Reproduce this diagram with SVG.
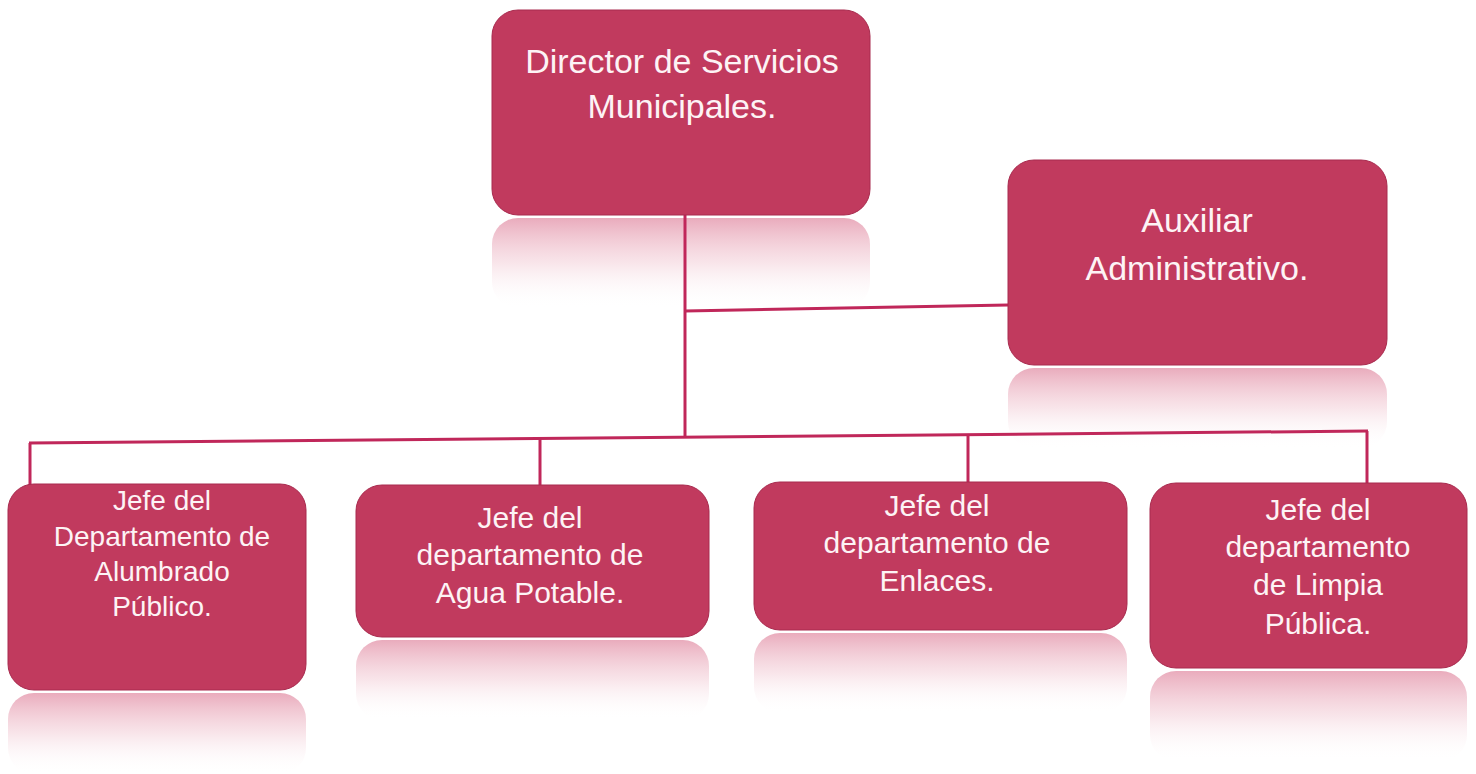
<svg xmlns="http://www.w3.org/2000/svg" width="1476" height="774" viewBox="0 0 1476 774">
<style>
.box{fill:#C13A5E;stroke:#A82A4E;stroke-width:1}
.refl{fill:url(#rg)}
.t{font-family:"Liberation Sans",Arial,sans-serif;fill:#fdf3f5;text-anchor:middle}
.conn{stroke:#C0275A;stroke-width:3;fill:none}
</style>
<defs>
<linearGradient id="rg" x1="0" y1="0" x2="0" y2="1">
<stop offset="0" stop-color="#D4587A" stop-opacity="0.5"/>
<stop offset="0.5" stop-color="#E8A2B4" stop-opacity="0.28"/>
<stop offset="1" stop-color="#ffffff" stop-opacity="0"/>
</linearGradient>
</defs>
<rect width="1476" height="774" fill="#ffffff"/>
<g id="reflections">
<rect class="refl" x="492" y="218" width="378" height="90" rx="26"/>
<rect class="refl" x="1008" y="368" width="379" height="80" rx="26"/>
<rect class="refl" x="8" y="693" width="298" height="81" rx="26"/>
<rect class="refl" x="356" y="640" width="353" height="80" rx="26"/>
<rect class="refl" x="754" y="633" width="373" height="80" rx="26"/>
<rect class="refl" x="1150" y="671" width="317" height="90" rx="26"/>
</g>
<g id="connectors">
<line class="conn" x1="685" y1="215" x2="685" y2="437"/>
<line class="conn" x1="685" y1="311" x2="1008" y2="305"/>
<line class="conn" x1="29" y1="443" x2="1368" y2="431"/>
<line class="conn" x1="30" y1="443" x2="30" y2="485"/>
<line class="conn" x1="540" y1="439" x2="540" y2="485"/>
<line class="conn" x1="968" y1="435" x2="968" y2="482"/>
<line class="conn" x1="1367" y1="431" x2="1367" y2="484"/>
</g>
<g id="director">
<rect class="box" x="492" y="10" width="378" height="205" rx="26"/>
<text class="t" font-size="34" x="682" y="73">Director de Servicios</text>
<text class="t" font-size="34" x="682" y="118">Municipales.</text>
</g>
<g id="auxiliar">
<rect class="box" x="1008" y="160" width="379" height="205" rx="26"/>
<text class="t" font-size="34" x="1197" y="232">Auxiliar</text>
<text class="t" font-size="34" x="1197" y="280">Administrativo.</text>
</g>
<g id="alumbrado">
<rect class="box" x="8" y="484" width="298" height="206" rx="26"/>
<text class="t" font-size="28" x="162" y="510">Jefe del</text>
<text class="t" font-size="28" x="162" y="546">Departamento de</text>
<text class="t" font-size="28" x="162" y="581">Alumbrado</text>
<text class="t" font-size="28" x="162" y="616">Público.</text>
</g>
<g id="agua">
<rect class="box" x="356" y="485" width="353" height="152" rx="26"/>
<text class="t" font-size="30" x="530" y="528">Jefe del</text>
<text class="t" font-size="30" x="530" y="565">departamento de</text>
<text class="t" font-size="30" x="530" y="603">Agua Potable.</text>
</g>
<g id="enlaces">
<rect class="box" x="754" y="482" width="373" height="148" rx="26"/>
<text class="t" font-size="30" x="937" y="516">Jefe del</text>
<text class="t" font-size="30" x="937" y="553">departamento de</text>
<text class="t" font-size="30" x="937" y="591">Enlaces.</text>
</g>
<g id="limpia">
<rect class="box" x="1150" y="483" width="317" height="185" rx="26"/>
<text class="t" font-size="30" x="1318" y="520">Jefe del</text>
<text class="t" font-size="30" x="1318" y="557">departamento</text>
<text class="t" font-size="30" x="1318" y="595">de Limpia</text>
<text class="t" font-size="30" x="1318" y="634">Pública.</text>
</g>
</svg>
